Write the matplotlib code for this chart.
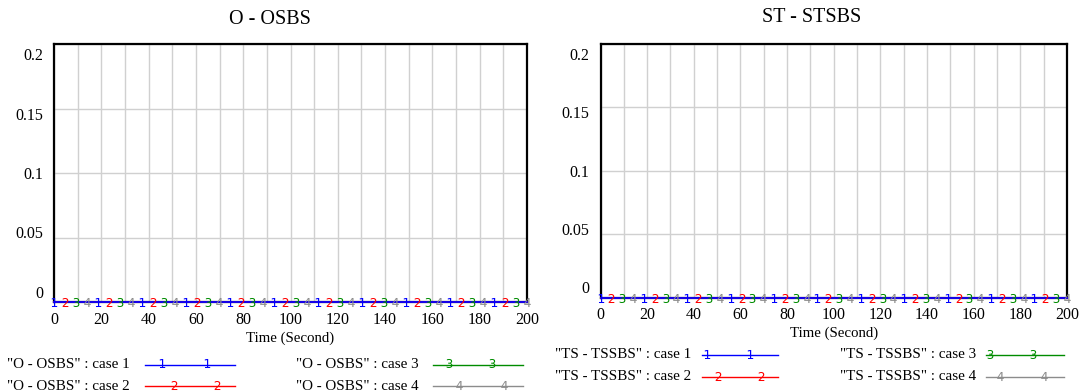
import numpy as np
import matplotlib
matplotlib.use("Agg")
import matplotlib.pyplot as plt
from matplotlib.lines import Line2D
from matplotlib.transforms import ScaledTranslation

# ---------------- data ----------------
time = [0, 25, 50, 75, 100, 125, 150, 175, 200]          # Time (Second)
o_osbs_case1 = [0, 0, 0, 0, 0, 0, 0, 0, 0]
o_osbs_case2 = [0, 0, 0, 0, 0, 0, 0, 0, 0]
o_osbs_case3 = [0, 0, 0, 0, 0, 0, 0, 0, 0]
o_osbs_case4 = [0, 0, 0, 0, 0, 0, 0, 0, 0]
ts_tssbs_case1 = [0, 0, 0, 0, 0, 0, 0, 0, 0]
ts_tssbs_case2 = [0, 0, 0, 0, 0, 0, 0, 0, 0]
ts_tssbs_case3 = [0, 0, 0, 0, 0, 0, 0, 0, 0]
ts_tssbs_case4 = [0, 0, 0, 0, 0, 0, 0, 0, 0]
case_labels = ["1", "2", "3", "4"]
x_ticks = [0, 20, 40, 60, 80, 100, 120, 140, 160, 180, 200]
y_ticks = [0, 0.05, 0.1, 0.15, 0.2]
y_tick_labels = ["0", "0.05", "0.1", "0.15", "0.2"]
titles = ["O - OSBS", "ST - STSBS"]
legend_names = ['"O - OSBS"', '"TS - TSSBS"']

colors = ["#0000ff", "#ff0000", "#008c00", "#8c8c8c"]
SERIF = ["Liberation Serif", "DejaVu Serif"]

W, H = 1081, 391
fig = plt.figure(figsize=(W / 100, H / 100), dpi=100)
fig.patch.set_facecolor("white")


def fx(x):
    return x / W


def fy(y):
    return 1 - y / H


def make_axes(box, series, title, tcx, tcy, xlab_cx, xlab_cy):
    l, t, r, b = box
    ax = fig.add_axes([fx(l), fy(b), (r - l) / W, (b - t) / H])
    ax.set_xlim(0, 200)
    ax.set_ylim(0, 0.2)
    ax.set_xticks(x_ticks)
    ax.set_xticklabels([str(v) for v in x_ticks], family=SERIF, fontsize=11.5)
    ax.set_xticks(np.arange(10, 200, 20), minor=True)
    ax.set_yticks(y_ticks)
    ax.set_yticklabels(y_tick_labels, family=SERIF, fontsize=11.5)
    ax.tick_params(which="both", length=0)
    ax.tick_params(axis="x", pad=7)
    ax.tick_params(axis="y", pad=8)
    ax.grid(True, which="both", axis="x", color="#d0d0d0", lw=1.0)
    ax.grid(True, which="major", axis="y", color="#d0d0d0", lw=1.0)
    ax.set_axisbelow(True)
    for s in ax.spines.values():
        s.set_linewidth(1.6)
        s.set_color("black")
    # Vensim-style inset y labels
    for lab, v in zip(ax.get_yticklabels(), y_ticks):
        dy_px = -(v - 0.1) / 0.1 * 10.5
        lab.set_transform(lab.get_transform() +
                          ScaledTranslation(0, dy_px / 100, fig.dpi_scale_trans))
    # series lines + numbered markers
    period = 200 / 10.75
    for i in reversed(range(4)):
        vals = series[i]
        ax.plot(time, vals, color=colors[i], lw=1.3, clip_on=False, zorder=5)
        mt = np.arange(i / 4 * period, 200.01, period)
        my = np.interp(mt, time, vals)
        ax.plot(mt, my, ls="none", marker=f"${case_labels[i]}$", ms=6.5,
                color=colors[i], clip_on=False, zorder=6, mew=0)
    fig.text(fx(tcx), fy(tcy), title, ha="center", va="center",
             family=SERIF, fontsize=14.5)
    fig.text(fx(xlab_cx), fy(xlab_cy), "Time (Second)", ha="center",
             va="center", family=SERIF, fontsize=10.7)
    return ax


ax1 = make_axes((54, 44, 527, 302),
                [o_osbs_case1, o_osbs_case2, o_osbs_case3, o_osbs_case4],
                titles[0], 269.5, 20, 290.5, 338.5)
ax2 = make_axes((600.5, 43.5, 1067, 297.5),
                [ts_tssbs_case1, ts_tssbs_case2, ts_tssbs_case3, ts_tssbs_case4],
                titles[1], 811.5, 18, 834, 333.5)


def legend_entry(name, idx, tx, ty, lx0, lx1, m0, m1):
    fig.text(fx(tx), fy(ty), f"{name} : case {case_labels[idx]}", ha="left",
             va="center", family=SERIF, fontsize=10.9)
    fig.add_artist(Line2D([fx(lx0), fx(lx1)], [fy(ty), fy(ty)],
                          color=colors[idx], lw=1.0,
                          transform=fig.transFigure))
    fig.add_artist(Line2D([fx(m0), fx(m1)], [fy(ty - 1.5), fy(ty - 1.5)],
                          ls="none", marker=f"${case_labels[idx]}$", ms=6.5,
                          mew=0, color=colors[idx], transform=fig.transFigure))


# left legend
legend_entry(legend_names[0], 0, 7.5, 364.5, 145, 235, 162, 206.5)
legend_entry(legend_names[0], 1, 7.5, 386, 145, 235, 174, 217)
legend_entry(legend_names[0], 2, 296, 364.5, 432.5, 522.5, 449, 491.5)
legend_entry(legend_names[0], 3, 296, 386, 432.5, 522.5, 459, 503.5)
# right legend
legend_entry(legend_names[1], 0, 555, 355, 702, 778, 706.5, 750)
legend_entry(legend_names[1], 1, 555, 377, 702, 778, 718, 760.5)
legend_entry(legend_names[1], 2, 839.5, 355, 986, 1063.5, 990, 1033)
legend_entry(legend_names[1], 3, 839.5, 377, 986, 1063.5, 1000, 1043.5)

fig.savefig("out.png", dpi=100, facecolor="white")
